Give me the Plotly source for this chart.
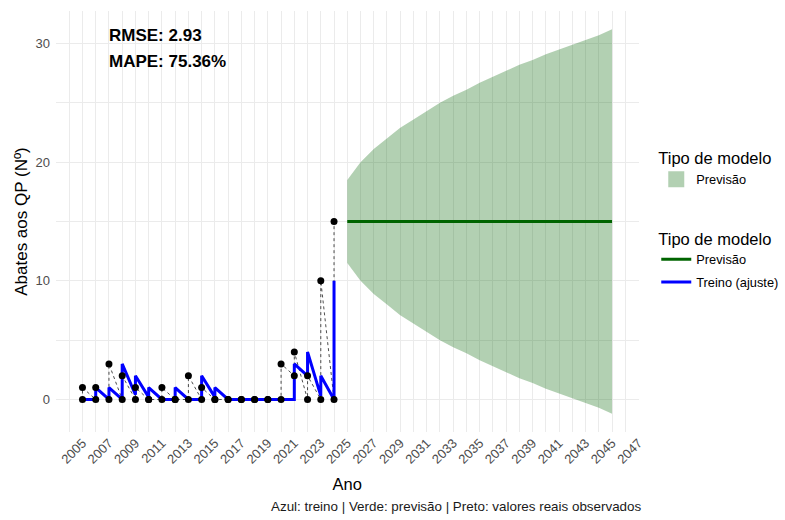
import plotly.graph_objects as go

# Observed yearly records (two records per year)
obs_years = [y for y in range(2005, 2025) for _ in range(2)]
observed = [0, 1, 0, 1, 0, 3, 0, 2, 0, 1, 0, 0, 0, 1, 0, 0, 0, 2, 0, 1,
            0, 0, 0, 0, 0, 0, 0, 0, 0, 0, 0, 3, 2, 4, 0, 2, 0, 10, 0, 15]

# Fitted values of the training period (same years as the observations)
fitted = [0, 0,  0, 1,  0, 1,  0, 3,  0.4, 2,  0.2, 1,  0, 0,  0, 1,  0, 0,  0, 2,
          0.2, 1,  0, 0,  0, 0,  0, 0,  0, 0,  0, 0,  0, 3,  2, 4,  0.3, 2,  0, 10]
fit_years = obs_years

# Forecast horizon with prediction interval
fc_years = list(range(2025, 2046))
fc_mean = [15] * len(fc_years)
fc_upper = [18.5, 20.0, 21.1, 22.0, 22.9, 23.6, 24.3, 25.0, 25.6, 26.1, 26.7,
            27.2, 27.7, 28.2, 28.6, 29.1, 29.5, 29.9, 30.3, 30.7, 31.2]
fc_lower = [11.5, 10.0, 8.9, 8.0, 7.1, 6.4, 5.7, 5.0, 4.4, 3.9, 3.3,
            2.8, 2.3, 1.8, 1.4, 0.9, 0.5, 0.1, -0.3, -0.7, -1.2]

x_ticks = list(range(2005, 2048, 2))
x_minor = list(range(2004, 2047, 2))
y_ticks = [0, 10, 20, 30]
y_minor = [5, 15, 25]

FONT = "Liberation Sans, Arial, sans-serif"
GRID = "#EBEBEB"
RIBBON = "rgba(0,100,0,0.3)"

fig = go.Figure()

fig.add_trace(go.Scatter(
    x=fc_years + fc_years[::-1], y=fc_upper + fc_lower[::-1],
    fill="toself", fillcolor=RIBBON, line=dict(width=0),
    mode="lines", name="Previsão", showlegend=False,
    legendgroup="interval", hoverinfo="skip"))

# square key for the interval legend
fig.add_trace(go.Scatter(
    x=[None], y=[None], mode="markers", name="Previsão",
    marker=dict(symbol="square", size=16, color=RIBBON),
    legend="legend", legendgroup="interval"))

fig.add_trace(go.Scatter(
    x=obs_years, y=observed, mode="lines",
    line=dict(color="black", width=0.7, dash="dot"), showlegend=False))

fig.add_trace(go.Scatter(
    x=fit_years, y=fitted, mode="lines",
    line=dict(color="#0000FF", width=3), name="Treino (ajuste)",
    legend="legend2", legendrank=2, legendgroup="fit"))

fig.add_trace(go.Scatter(
    x=fc_years, y=fc_mean, mode="lines",
    line=dict(color="#006400", width=3), name="Previsão",
    legend="legend2", legendrank=1, legendgroup="forecast"))

fig.add_trace(go.Scatter(
    x=obs_years, y=observed, mode="markers",
    marker=dict(color="black", size=7), showlegend=False))

fig.update_layout(
    width=785, height=520,
    margin=dict(l=56, r=144, t=11, b=88),
    plot_bgcolor="white", paper_bgcolor="white",
    font=dict(family=FONT, color="#000000"),
    xaxis=dict(
        range=[2003, 2047], tickvals=x_ticks, tickangle=-45,
        tickfont=dict(size=13, color="#4D4D4D"),
        showgrid=True, gridcolor=GRID, gridwidth=1, zeroline=False,
        ticks="", showline=False,
        minor=dict(tickvals=x_minor, showgrid=True, gridcolor=GRID, gridwidth=0.6),
        title=dict(text="Ano", font=dict(size=16.5), standoff=12),
    ),
    yaxis=dict(
        range=[-2.74, 32.74], tickvals=y_ticks,
        tickfont=dict(size=13, color="#4D4D4D"),
        showgrid=True, gridcolor=GRID, gridwidth=1, zeroline=False,
        ticks="", showline=False, ticklabelstandoff=5,
        minor=dict(tickvals=y_minor, showgrid=True, gridcolor=GRID, gridwidth=0.6),
        title=dict(text="Abates aos QP (Nº)", font=dict(size=17), standoff=3),
    ),
    legend=dict(
        xref="container", yref="container", x=0.836, y=0.725,
        xanchor="left", yanchor="top",
        title=dict(text="Tipo de modelo", font=dict(size=16.5)),
        font=dict(size=12.8), itemwidth=30, bgcolor="rgba(0,0,0,0)",
    ),
    legend2=dict(
        xref="container", yref="container", x=0.836, y=0.571,
        xanchor="left", yanchor="top",
        title=dict(text="Tipo de modelo", font=dict(size=16.5)),
        font=dict(size=12.8), itemwidth=30, bgcolor="rgba(0,0,0,0)",
        traceorder="grouped", tracegroupgap=3,
    ),
    showlegend=True,
)

fig.add_annotation(x=2006.85, y=30.65, xref="x", yref="y", text="<b>RMSE: 2.93</b>",
                   showarrow=False, xanchor="left", yanchor="middle",
                   font=dict(size=17, color="black"))
fig.add_annotation(x=2006.85, y=28.45, xref="x", yref="y", text="<b>MAPE: 75.36%</b>",
                   showarrow=False, xanchor="left", yanchor="middle",
                   font=dict(size=17, color="black"))
fig.add_annotation(x=1.008, y=-0.178, xref="paper", yref="paper",
                   text="Azul: treino | Verde: previsão | Preto: valores reais observados",
                   showarrow=False, xanchor="right", yanchor="middle",
                   font=dict(size=13.4, color="#1A1A1A"))

fig.write_html("out.html")
